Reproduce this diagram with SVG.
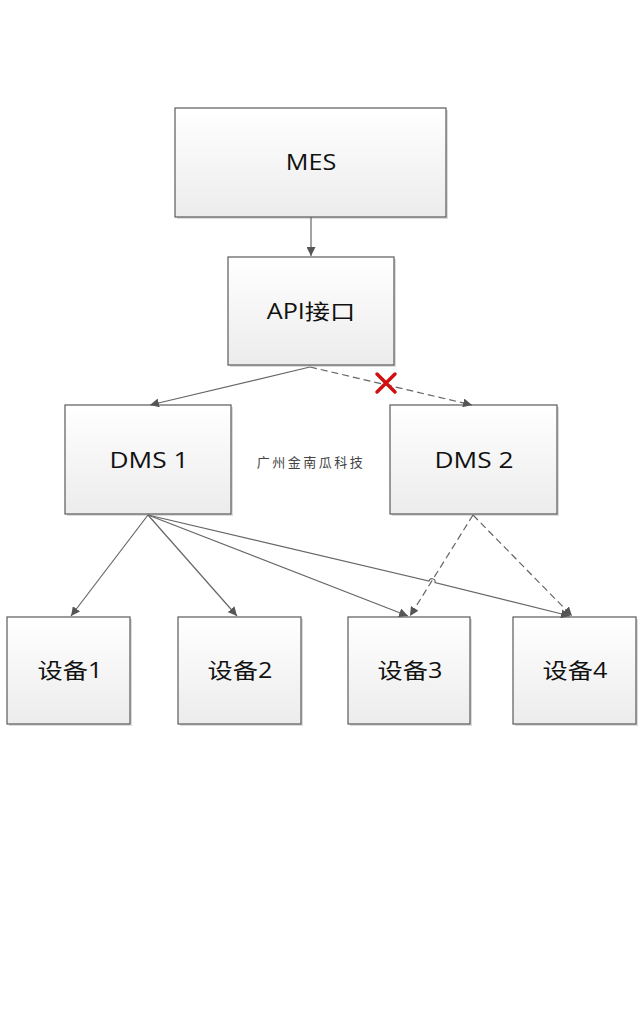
<svg xmlns="http://www.w3.org/2000/svg" width="639" height="1024" viewBox="0 0 639 1024">
<style>
.box{fill:url(#g);stroke:#5a5a5a;stroke-width:1.2}
.sh{fill:#dcdcdc}
.t{font-family:"Open Sans","Noto Sans CJK SC",sans-serif;font-size:21px;fill:#111;text-anchor:middle;dominant-baseline:central}
.c{fill:none;stroke:#666;stroke-width:1.2}
.d{stroke-dasharray:7,4}
</style>
<defs>
<linearGradient id="g" x1="0" y1="0" x2="0" y2="1">
<stop offset="0" stop-color="#ffffff"/>
<stop offset="1" stop-color="#ececec"/>
</linearGradient>
<marker id="a" viewBox="0 0 10 10" refX="10" refY="5" markerWidth="9" markerHeight="9" markerUnits="userSpaceOnUse" orient="auto">
<path d="M0,0 L10,5 L0,10 z" fill="#555"/>
</marker>
</defs>
<rect width="639" height="1024" fill="#ffffff"/>
<g id="mes"><rect class="sh" x="177" y="110" width="271" height="109"/><rect class="box" x="175" y="108" width="271" height="109"/><text class="t" transform="translate(311 162) scale(1.2 1)">MES</text></g>
<g id="api"><rect class="sh" x="230" y="259" width="166" height="108"/><rect class="box" x="228" y="257" width="166" height="108"/><text class="t" transform="translate(311 311) scale(1.2 1)">API接口</text></g>
<g id="dms1"><rect class="sh" x="67" y="407" width="166" height="109"/><rect class="box" x="65" y="405" width="166" height="109"/><text class="t" transform="translate(149 460) scale(1.25 1)">DMS 1</text></g>
<g id="dms2"><rect class="sh" x="392" y="407" width="167" height="109"/><rect class="box" x="390" y="405" width="167" height="109"/><text class="t" transform="translate(474 460) scale(1.25 1)">DMS 2</text></g>
<g id="dev1"><rect class="sh" x="9" y="619" width="123" height="107"/><rect class="box" x="7" y="617" width="123" height="107"/><text class="t" transform="translate(70 670) scale(1.2 1)">设备1</text></g>
<g id="dev2"><rect class="sh" x="180" y="619" width="123" height="107"/><rect class="box" x="178" y="617" width="123" height="107"/><text class="t" transform="translate(240 670) scale(1.2 1)">设备2</text></g>
<g id="dev3"><rect class="sh" x="350" y="619" width="122" height="107"/><rect class="box" x="348" y="617" width="122" height="107"/><text class="t" transform="translate(410 670) scale(1.2 1)">设备3</text></g>
<g id="dev4"><rect class="sh" x="515" y="619" width="123" height="107"/><rect class="box" x="513" y="617" width="123" height="107"/><text class="t" transform="translate(575 670) scale(1.2 1)">设备4</text></g>
<g id="label"><text x="311" y="461" font-family="'Noto Sans CJK SC',sans-serif" font-size="13" letter-spacing="2.5" fill="#444" text-anchor="middle" dominant-baseline="central">广州金南瓜科技</text></g>
<g id="connectors">
<path class="c" d="M311,217 L311,256" marker-end="url(#a)"/>
<path class="c" d="M310,367 L150,405" marker-end="url(#a)"/>
<path class="c d" d="M310,367 L472,405" marker-end="url(#a)"/>
<path class="c" d="M148,515 L71,616" marker-end="url(#a)"/>
<path class="c" d="M148,515 L237,616" marker-end="url(#a)"/>
<path class="c" d="M148,515 L408,616" marker-end="url(#a)"/>
<path class="c" d="M148,515 L429,581 A3,3 0 0 1 435,582.5 L570,616" marker-end="url(#a)"/>
<path class="c d" d="M473,515 L410,616" marker-end="url(#a)"/>
<path class="c d" d="M473,515 L572,616" marker-end="url(#a)"/>
<g id="cross" stroke="#d01010" stroke-width="3.5" stroke-linecap="round"><path d="M377,374 L395,392 M395,374 L377,392"/></g>
</g>
</svg>
